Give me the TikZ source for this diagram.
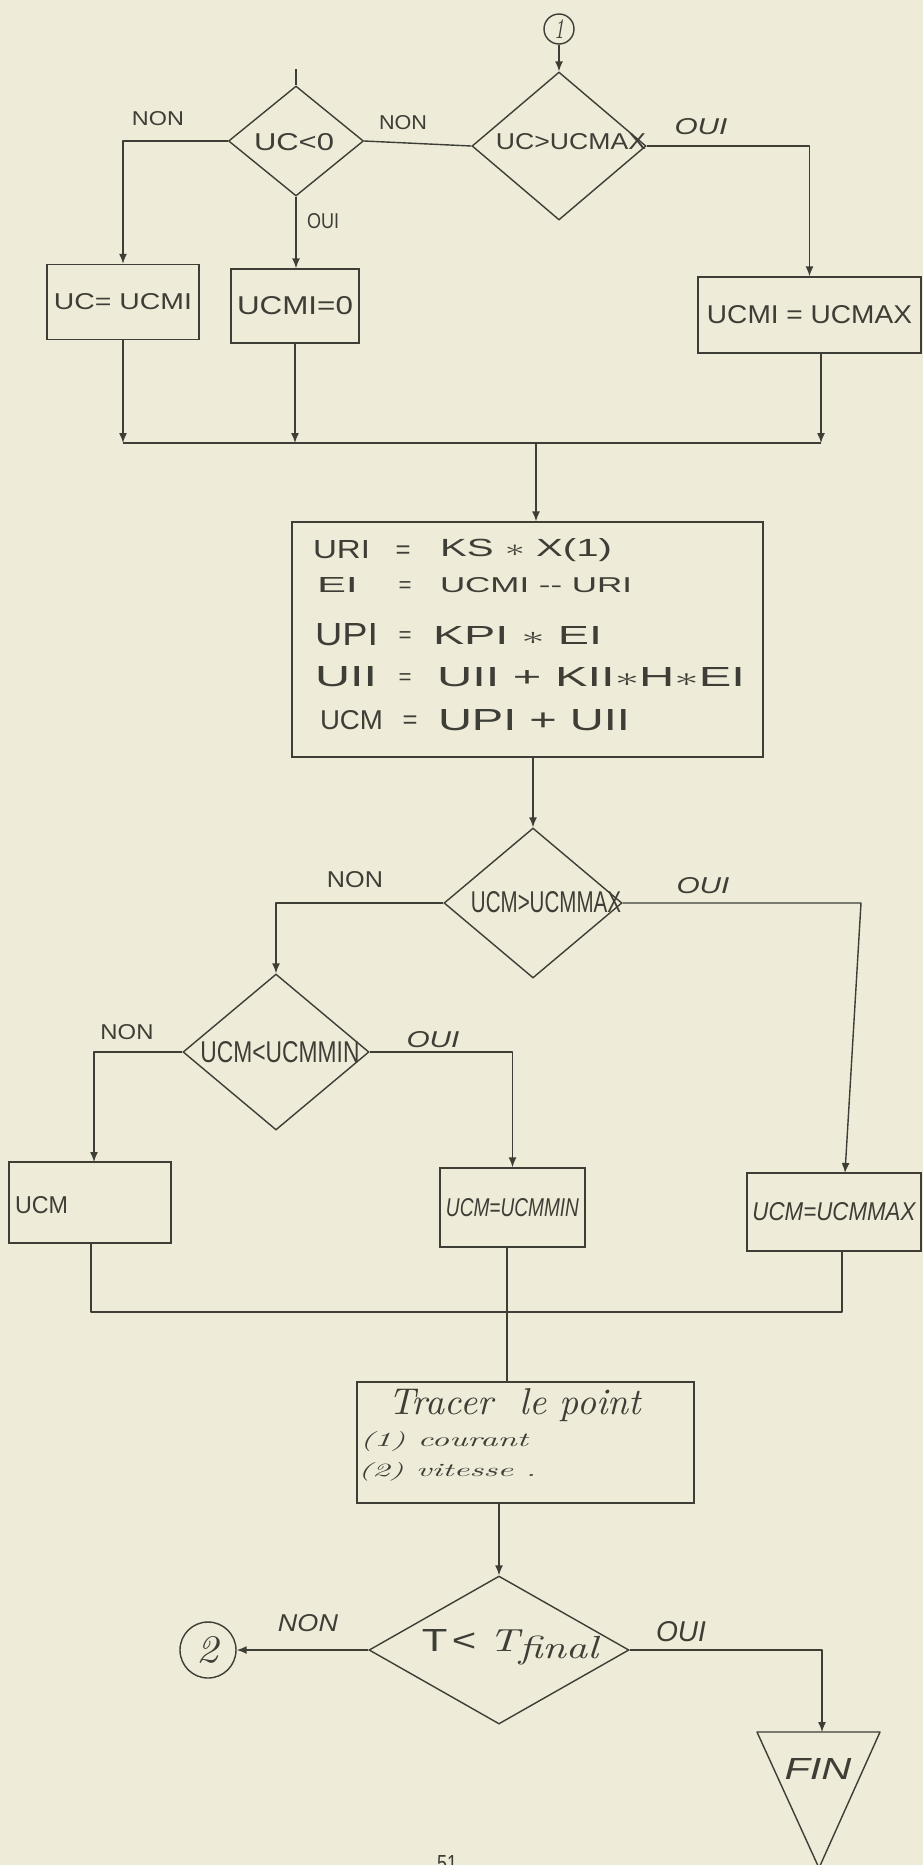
\documentclass[tikz,border=0pt]{standalone}
\usepackage{fontspec}
\usepackage{graphicx}
\newfontfamily\lett{Liberation Sans}
\usetikzlibrary{shapes.geometric,arrows.meta}
\definecolor{paper}{RGB}{238,235,216}
\definecolor{ink}{RGB}{62,62,54}
\newdimen\pxu \pxu=0.03cm
\newcommand\fitT[3]{\resizebox{#1\pxu}{#2\pxu}{#3}}
\newcommand\fitW[2]{\resizebox{#1\pxu}{!}{#2}}
\tikzset{
  ln/.style={draw=ink, line width=1.2pt, line join=round},
  arr/.style={ln, -{Latex[length=3mm,width=2.4mm]}},
  dec/.style={diamond, draw=ink, line width=1.2pt, inner sep=0pt, aspect=1},
  procbox/.style={rectangle, draw=ink, line width=1.2pt, inner sep=0pt, text=ink},
  conn/.style={circle, draw=ink, line width=1.2pt, inner sep=0pt, text=ink},
  txt/.style={text=ink, inner sep=0pt, outer sep=0pt},
}
\begin{document}
\begin{tikzpicture}[x=0.03cm, y=-0.03cm]
\fill[paper] (0,0) rectangle (923,1865);
\useasboundingbox (0,0) rectangle (923,1865);

% ---------- top part
\node[conn, minimum size=30\pxu] (c1) at (559,29) {\fitT{10}{19}{\itshape 1}};
\node[dec, minimum width=174\pxu, minimum height=148\pxu] (d1) at (559,146) {};
\node[txt] (d1t) at (571,142) {\fitT{150}{16}{\lett UC>UCMAX}};
\node[dec, minimum width=135\pxu, minimum height=110\pxu] (d2) at (296,141) {};
\node[txt] (d2t) at (294,142) {\fitT{80}{17}{\lett UC<0}};
\coordinate (d2stub) at (296,69);
\draw[arr] (c1) -- (d1.north);
\draw[ln] (d2stub) -- (d2.north);
\draw[ln] (d1.west) -- (d2.east);
\node[txt] (l1) at (403,123) {\fitT{48}{14}{\lett NON}};
\node[txt] (l2) at (158,119) {\fitT{52}{14}{\lett NON}};
\node[txt] (l3) at (323,221) {\fitT{32}{15}{\lett OUI}};
\node[txt] (l4) at (701,127) {\fitT{53}{16}{\lett\itshape OUI}};

\node[procbox, minimum width=152\pxu, minimum height=75\pxu] (b1) at (123,302) {\fitT{138}{16}{\lett UC= UCMI}};
\node[procbox, minimum width=128\pxu, minimum height=74\pxu] (b2) at (295,306) {\fitT{116}{18}{\lett UCMI=0}};
\node[procbox, minimum width=223\pxu, minimum height=76\pxu] (b3) at (809.5,315) {\fitT{205}{18}{\lett UCMI = UCMAX}};

\draw[arr] (d2.west) -| (b1.north);
\draw[arr] (d2.south) -- (d2.south |- b2.north);
\draw[arr] (d1.east) -| (b3.north);

\coordinate (m1a) at (123,443);
\coordinate (m1c) at (821,443);
\coordinate (m1d) at (536,443);
\draw[arr] (b1.south) -- (b1.south |- m1a);
\draw[arr] (b2.south) -- (b2.south |- m1a);
\draw[arr] (m1c |- b3.south) -- (m1c);
\draw[ln] (m1a) -- (m1c);

% ---------- computation box
\node[procbox, minimum width=471\pxu, minimum height=235\pxu] (b4) at (527.5,639.5) {};
\draw[arr] (m1d) -- (m1d |- b4.north);

\node[txt, anchor=west] (r1a) at (313,550) {\fitT{57}{18}{\lett URI}};
\node[txt] (r1b) at (403,552) {\fitW{15}{\lett =}};
\node[txt, anchor=west] (r1c) at (440,550) {\fitT{172}{18}{\lett KS $\ast$ X(1)}};

\node[txt, anchor=west] (r2a) at (317,585) {\fitT{41}{15}{\lett EI}};
\node[txt] (r2b) at (405,587) {\fitW{13}{\lett =}};
\node[txt, anchor=west] (r2c) at (440,585) {\fitT{192}{15}{\lett UCMI -- URI}};

\node[txt, anchor=west] (r3a) at (315,635) {\fitT{63}{22}{\lett UPI}};
\node[txt] (r3b) at (405,637) {\fitW{13}{\lett =}};
\node[txt, anchor=west] (r3c) at (433,635) {\fitT{169}{18}{\lett KPI $\ast$ EI}};

\node[txt, anchor=west] (r4a) at (315,677) {\fitT{62}{20}{\lett UII}};
\node[txt] (r4b) at (405,679) {\fitW{13}{\lett =}};
\node[txt, anchor=west] (r4c) at (437,677) {\fitT{308}{19}{\lett UII + KII$\ast$H$\ast$EI}};

\node[txt, anchor=west] (r5a) at (320,720) {\fitT{63}{19}{\lett UCM}};
\node[txt] (r5b) at (410,722) {\fitW{15}{\lett =}};
\node[txt, anchor=west] (r5c) at (438,720) {\fitT{192}{21}{\lett UPI + UII}};

% ---------- middle decisions
\node[dec, minimum width=178\pxu, minimum height=150\pxu] (d3) at (533,903) {};
\node[txt] (d3t) at (546,902) {\fitT{150}{21}{\lett UCM>UCMMAX}};
\draw[arr] (d3.north |- b4.south) -- (d3.north);

\node[dec, minimum width=186\pxu, minimum height=156\pxu] (d4) at (276,1052) {};
\node[txt] (d4t) at (280,1052) {\fitT{159}{21}{\lett UCM<UCMMIN}};

\node[procbox, minimum width=162\pxu, minimum height=81\pxu] (b5) at (90,1202.5) {};
\node[txt, anchor=west] (b5t) at (15,1205) {\fitT{53}{17}{\lett UCM}};
\node[procbox, minimum width=145\pxu, minimum height=79\pxu] (b6) at (512.5,1207.5) {\fitT{133}{18}{\lett\itshape UCM=UCMMIN}};
\node[procbox, minimum width=174\pxu, minimum height=78\pxu] (b7) at (834,1212) {\fitT{163}{18}{\lett\itshape UCM=UCMMAX}};

\coordinate (d3r) at (861,903);
\coordinate (b7in) at (845,1173);
\draw[arr] (d3.east) -- (d3r) -- (b7in);
\draw[arr] (d3.west) -| (d4.north);
\node[txt] (l5) at (355,880) {\fitT{56}{16}{\lett NON}};
\node[txt] (l6) at (703,886) {\fitT{53}{16}{\lett\itshape OUI}};

\coordinate (b5in) at (94,1162);
\draw[arr] (d4.west) -| (b5in);
\draw[arr] (d4.east) -| (b6.north);
\node[txt] (l7) at (127,1032) {\fitT{53}{15}{\lett NON}};
\node[txt] (l8) at (433,1040) {\fitT{53}{16}{\lett\itshape OUI}};

\coordinate (m2a) at (91,1312);
\coordinate (m2c) at (842,1312);
\draw[ln] (m2a |- b5.south) -- (m2a) -- (m2c) -- (m2c |- b7.south);

% ---------- plot box
\node[procbox, minimum width=337\pxu, minimum height=121\pxu] (b8) at (525.5,1442.5) {};
\coordinate (b8in) at (507,1382);
\draw[ln] (b8in |- b6.south) -- (b8in);
\node[txt, anchor=west] (b8a) at (388,1405) {\fitW{253}{\itshape Tracer\ \ le point}};
\node[txt, anchor=west] (b8b) at (360,1441) {\fitT{168}{15}{\itshape (1) courant}};
\node[txt, anchor=west] (b8c) at (358,1472) {\fitT{178}{14}{\itshape (2) vitesse .}};

% ---------- final test
\node[dec, minimum width=260\pxu, minimum height=148\pxu] (d5) at (499,1650) {};
\node[txt] (d5t) at (510,1647) {\fitT{176}{22}{{\lett T\kern0.1em<\kern0.3em}{\itshape T\raisebox{-0.5ex}{final}}}};
\draw[arr] (d5.north |- b8.south) -- (d5.north);

\node[conn, minimum size=56\pxu] (c2) at (208,1650) {\fitT{22}{26}{\itshape 2}};
\draw[arr] (d5.west) -- (c2.east);
\node[txt] (l9) at (308,1623) {\fitT{60}{17}{\lett\itshape NON}};

\coordinate (fint) at (822,1732);
\draw[arr] (d5.east) -| (fint);
\node[txt] (l10) at (681,1632) {\fitT{50}{20}{\lett\itshape OUI}};
\coordinate (fintl) at (757,1732);
\coordinate (fintr) at (880,1732);
\coordinate (finb) at (819,1868);
\draw[ln] (fintl) -- (fintr) -- (finb) -- cycle;
\node[txt] (fin) at (818,1769) {\fitT{67}{21}{\lett\itshape FIN}};
\node[txt, anchor=north] (pg) at (447,1855) {\fitT{20}{16}{\lett 51}};
\end{tikzpicture}
\end{document}
